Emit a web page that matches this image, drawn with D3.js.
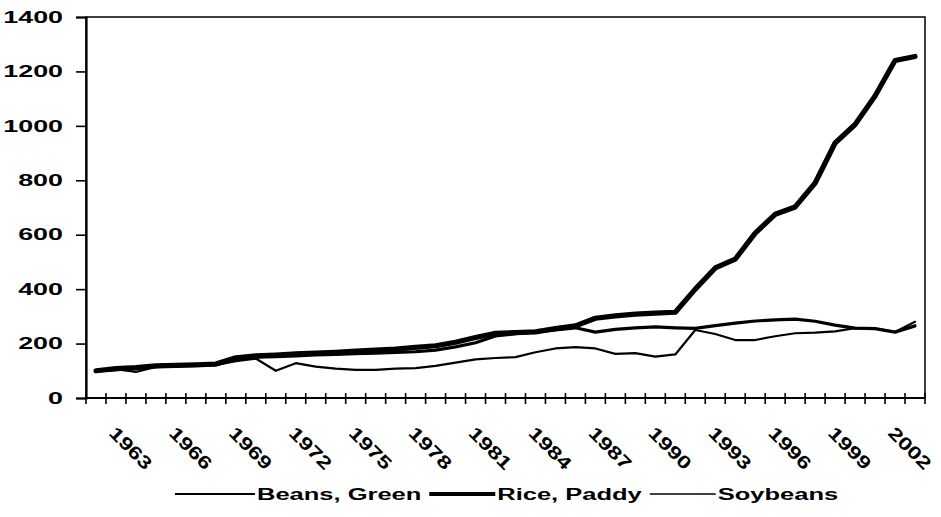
<!DOCTYPE html>
<html>
<head>
<meta charset="utf-8">
<script src="https://cdn.jsdelivr.net/npm/d3@7"></script>
<style>
  html, body { margin: 0; padding: 0; background: #fff; }
  svg { display: block; }
  text { font-family: "Liberation Sans", Arial, sans-serif; font-weight: bold; fill: #000; }
</style>
</head>
<body>
<svg id="chart" width="941" height="517"></svg>
<script>
// ---- data ----
const years = [1961,1962,1963,1964,1965,1966,1967,1968,1969,1970,
               1971,1972,1973,1974,1975,1976,1977,1978,1979,1980,
               1981,1982,1983,1984,1985,1986,1987,1988,1989,1990,
               1991,1992,1993,1994,1995,1996,1997,1998,1999,2000,
               2001,2002];
const beansGreen = [100,104,108,115,118,120,122,140,150,152,
                    155,158,160,163,165,168,170,176,188,203,
                    228,236,243,250,258,242,252,258,261,258,
                    256,266,275,283,287,290,282,268,257,255,
                    242,265];
const ricePaddy = [100,108,112,118,120,122,125,148,155,158,
                   162,165,168,172,176,180,186,192,205,222,
                   238,240,243,255,265,293,302,308,312,315,
                   400,478,510,606,675,702,790,937,1005,1110,
                   1240,1255];
const soybeans = [100,106,96,114,117,120,122,135,145,100,
                  128,115,108,103,103,108,110,118,130,142,
                  147,150,168,182,187,182,162,165,152,160,
                  250,235,213,213,227,238,240,245,257,255,
                  243,280];
const yTicks = [0,200,400,600,800,1000,1200,1400];
const xTickLabels = ["1963","1966","1969","1972","1975","1978","1981",
                     "1984","1987","1990","1993","1996","1999","2002"];
const seriesNames = ["Beans, Green","Rice, Paddy","Soybeans"];

// ---- layout ----
const svg = d3.select("#chart");
const L = 86, R = 925, T = 17, B = 398;
const x = d3.scaleBand().domain(years).range([L, R]);
const y = d3.scaleLinear().domain([0, 1400]).range([B, T]);
const cx = d => x(d) + x.bandwidth() / 2;

// plot border
svg.append("rect").attr("x", L).attr("y", T).attr("width", R - L).attr("height", B - T)
  .attr("fill", "none").attr("stroke", "#000").attr("stroke-width", 1.5);

// y axis
const yAxis = svg.append("g").attr("transform", `translate(${L},0)`)
  .call(d3.axisLeft(y).tickValues(yTicks).tickSize(10).tickFormat(""));
yAxis.select(".domain").attr("stroke-width", 2.2);
yAxis.selectAll(".tick line").attr("stroke-width", 1.6);
svg.append("g").selectAll("text").data(yTicks).join("text")
  .attr("transform", d => `translate(63,${y(d)}) scale(1.58,1)`)
  .attr("text-anchor", "end").attr("dominant-baseline", "central")
  .style("font-size", "17px").text(d => d);

// x axis with crossing ticks at category boundaries
svg.append("line").attr("x1", L).attr("x2", R).attr("y1", B).attr("y2", B)
  .attr("stroke", "#000").attr("stroke-width", 2.2);
const bounds = years.map(d => x(d)).concat([x(years[years.length - 1]) + x.bandwidth()]);
svg.append("g").selectAll("line").data(bounds).join("line")
  .attr("x1", d => d).attr("x2", d => d).attr("y1", B - 5).attr("y2", B + 6)
  .attr("stroke", "#000").attr("stroke-width", 1.6);
svg.append("g").selectAll("text").data(xTickLabels).join("text")
  .attr("transform", d => `translate(${cx(+d) - 5},448) rotate(45) scale(1.3,1)`)
  .attr("text-anchor", "middle").attr("dominant-baseline", "central")
  .style("font-size", "18px").text(d => d);

// lines
const line = d3.line().x((d, i) => cx(years[i])).y(d => y(d));
const styles = [
  {data: soybeans, w: 2.2},
  {data: beansGreen, w: 3.2},
  {data: ricePaddy, w: 5.2}
];
styles.forEach(s => {
  svg.append("path").datum(s.data).attr("d", line)
    .attr("fill", "none").attr("stroke", "#000").attr("stroke-width", s.w)
    .attr("stroke-linejoin", "round").attr("stroke-linecap", "round");
});

// legend
const legW = [2.2, 4.2, 1.6];
const legend = svg.append("g");
let lx = 175;
const ly = 494;
seriesNames.forEach((name, i) => {
  legend.append("line").attr("x1", lx).attr("x2", lx + (i === 0 ? 80 : 66))
    .attr("y1", ly).attr("y2", ly).attr("stroke", "#000").attr("stroke-width", legW[i]);
  lx += (i === 0 ? 82 : 68);
  const t = legend.append("text").attr("transform", `translate(${lx},${ly}) scale(1.5,1)`)
    .attr("dominant-baseline", "central").style("font-size", "17px").text(name);
  lx += t.node().getComputedTextLength() * 1.5 + 8;
});
</script>
</body>
</html>
